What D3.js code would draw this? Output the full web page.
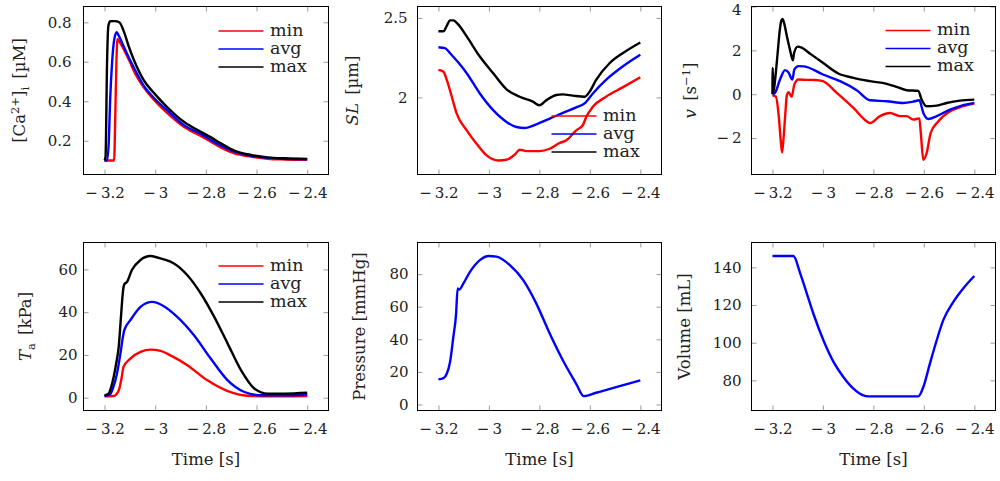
<!DOCTYPE html>
<html lang="en">
<head>
<meta charset="UTF-8">
<title>Model outputs over one beat</title>
<script src="https://d3js.org/d3.v7.min.js"></script>
<style>
    body { margin: 0; background: #fff; }
    svg { display: block; font-family: "DejaVu Serif", serif; }
    .tick text { font-size: 15px; fill: #222; font-family: "DejaVu Serif", serif; }
    .tick line { stroke: #9a9a9a; }
    .axis-label { font-size: 16.5px; fill: #222; }
    .legend-label { font-size: 17.5px; fill: #222; }
</style>
</head>
<body>
<svg id="chart" width="1000" height="481"></svg>
<script>
// ---- data (time in s) ----
const xTicks = [-3.2, -3, -2.8, -2.6, -2.4];
const seriesNames = ["min", "avg", "max"];
const seriesColors = ["#ff0000", "#0000ff", "#000000"];

const caMin = [[-3.2,0.1],[-3.162,0.1],[-3.158,0.3],[-3.153,0.6],[-3.149,0.715],[-3.14,0.7],[-3.125,0.665],[-3.1,0.6],[-3.085,0.556],[-3.045,0.47],[-3.0,0.4],[-2.953,0.341],[-2.887,0.271],[-2.82,0.224],[-2.78,0.195],[-2.74,0.165],[-2.688,0.136],[-2.622,0.12],[-2.556,0.109],[-2.49,0.105],[-2.4,0.103]];
const caAvg = [[-3.2,0.1],[-3.19,0.1],[-3.183,0.2],[-3.178,0.4],[-3.17,0.6],[-3.162,0.71],[-3.152,0.75],[-3.145,0.735],[-3.125,0.68],[-3.1,0.61],[-3.086,0.575],[-3.046,0.48],[-3.0,0.41],[-2.953,0.355],[-2.887,0.279],[-2.82,0.234],[-2.78,0.203],[-2.74,0.175],[-2.688,0.145],[-2.622,0.124],[-2.556,0.113],[-2.49,0.108],[-2.4,0.106]];
const caMax = [[-3.2,0.1],[-3.196,0.12],[-3.19,0.6],[-3.185,0.78],[-3.178,0.805],[-3.16,0.806],[-3.142,0.8],[-3.125,0.758],[-3.105,0.68],[-3.086,0.615],[-3.046,0.508],[-3.0,0.435],[-2.953,0.371],[-2.887,0.296],[-2.82,0.245],[-2.78,0.217],[-2.741,0.187],[-2.688,0.15],[-2.622,0.128],[-2.556,0.116],[-2.49,0.111],[-2.4,0.108]];

const slMin = [[-3.2,2.173],[-3.18,2.162],[-3.167,2.11],[-3.147,2.004],[-3.128,1.899],[-3.088,1.793],[-3.049,1.709],[-3.009,1.635],[-2.963,1.603],[-2.93,1.608],[-2.897,1.641],[-2.878,1.671],[-2.851,1.662],[-2.8,1.662],[-2.759,1.677],[-2.72,1.713],[-2.693,1.73],[-2.654,1.793],[-2.628,1.825],[-2.614,1.878],[-2.588,1.941],[-2.536,2.004],[-2.47,2.063],[-2.4,2.127]];
const slAvg = [[-3.2,2.316],[-3.174,2.31],[-3.154,2.278],[-3.121,2.219],[-3.088,2.152],[-3.036,2.025],[-2.983,1.92],[-2.93,1.846],[-2.891,1.814],[-2.858,1.808],[-2.812,1.831],[-2.759,1.867],[-2.707,1.903],[-2.654,1.937],[-2.621,1.962],[-2.588,2.025],[-2.536,2.11],[-2.47,2.194],[-2.4,2.268]];
const slMax = [[-3.2,2.416],[-3.18,2.416],[-3.167,2.45],[-3.154,2.485],[-3.141,2.485],[-3.121,2.458],[-3.088,2.384],[-3.036,2.257],[-2.983,2.152],[-2.93,2.051],[-2.878,2.004],[-2.826,1.973],[-2.8,1.951],[-2.772,1.983],[-2.733,2.015],[-2.707,2.019],[-2.667,2.011],[-2.621,2.004],[-2.601,2.036],[-2.575,2.11],[-2.522,2.215],[-2.47,2.278],[-2.4,2.346]];

const vMin = [[-3.2,-0.05],[-3.187,-0.1],[-3.175,-1.0],[-3.168,-2.0],[-3.162,-2.66],[-3.156,-2.0],[-3.149,-0.9],[-3.143,-0.05],[-3.136,0.09],[-3.124,-0.12],[-3.113,0.45],[-3.097,0.67],[-3.064,0.656],[-3.031,0.65],[-3.0,0.595],[-2.945,0.06],[-2.879,-0.626],[-2.826,-1.237],[-2.813,-1.313],[-2.774,-1.0],[-2.734,-0.855],[-2.694,-1.0],[-2.668,-1.0],[-2.642,-1.16],[-2.618,-1.1],[-2.612,-1.77],[-2.602,-2.99],[-2.589,-2.69],[-2.573,-1.77],[-2.543,-1.24],[-2.496,-0.78],[-2.45,-0.57],[-2.4,-0.43]];
const vAvg = [[-3.2,0],[-3.19,0.06],[-3.17,0.67],[-3.15,1.1],[-3.137,1.0],[-3.121,0.67],[-3.113,1.13],[-3.097,1.28],[-3.075,1.27],[-3.0,0.9],[-2.932,0.595],[-2.866,0.183],[-2.813,-0.275],[-2.747,-0.32],[-2.681,-0.397],[-2.642,-0.336],[-2.618,-0.275],[-2.602,-0.855],[-2.582,-1.13],[-2.549,-1.0],[-2.496,-0.7],[-2.45,-0.52],[-2.4,-0.397]];
const vMax = [[-3.2,0],[-3.199,1.2],[-3.196,0.1],[-3.19,0.6],[-3.18,1.8],[-3.172,2.8],[-3.165,3.35],[-3.16,3.43],[-3.154,3.25],[-3.143,2.66],[-3.13,2.0],[-3.119,1.55],[-3.114,1.89],[-3.1,2.17],[-3.084,2.12],[-3.051,1.85],[-3.0,1.435],[-2.939,0.947],[-2.879,0.748],[-2.813,0.595],[-2.747,0.473],[-2.708,0.336],[-2.668,0.183],[-2.622,0.153],[-2.609,-0.244],[-2.589,-0.55],[-2.549,-0.52],[-2.51,-0.4],[-2.457,-0.29],[-2.4,-0.244]];

const taMin = [[-3.2,0.6],[-3.164,0.8],[-3.144,3.4],[-3.133,9],[-3.125,14.4],[-3.098,18.3],[-3.058,21.4],[-3.019,22.5],[-2.979,21.9],[-2.94,19.8],[-2.873,15.2],[-2.794,8.1],[-2.714,3.1],[-2.635,0.9],[-2.556,0.6],[-2.4,0.8]];
const taAvg = [[-3.2,0.8],[-3.178,1.6],[-3.165,5],[-3.151,11.25],[-3.138,20],[-3.128,28],[-3.122,31.6],[-3.098,36.25],[-3.058,42.5],[-3.012,44.8],[-2.966,42.8],[-2.913,37.8],[-2.847,29.2],[-2.781,18.3],[-2.714,8.1],[-2.648,2.66],[-2.582,1.1],[-2.49,1.1],[-2.4,1.4]];
const taMax = [[-3.2,1.1],[-3.184,1.9],[-3.175,4.5],[-3.164,9.7],[-3.154,16],[-3.144,23.75],[-3.135,38],[-3.127,50],[-3.122,53],[-3.111,54.2],[-3.092,59.7],[-3.058,64.4],[-3.019,66.25],[-2.992,65.6],[-2.966,64.7],[-2.926,62.8],[-2.873,57.3],[-2.82,48.75],[-2.767,37.8],[-2.714,25.3],[-2.661,12.8],[-2.608,4.2],[-2.556,1.9],[-2.49,1.9],[-2.4,2.3]];

const pressure = [[-3.2,15.4],[-3.18,16.2],[-3.167,18.9],[-3.154,26.1],[-3.141,41.4],[-3.13,55.8],[-3.124,71.2],[-3.118,70.5],[-3.101,74.3],[-3.075,81.4],[-3.036,88.6],[-3.0,91.1],[-2.97,90.7],[-2.917,85.5],[-2.864,76.3],[-2.812,61.9],[-2.759,43.5],[-2.707,27.1],[-2.654,12.7],[-2.624,5.1],[-2.575,7.2],[-2.496,10.6],[-2.4,14.8]];
const volume = [[-3.2,146],[-3.117,146],[-3.09,136.8],[-3.064,126.2],[-3.038,115.5],[-2.998,101.3],[-2.958,89.8],[-2.919,81.8],[-2.879,75.6],[-2.84,72.0],[-2.82,71.5],[-2.622,71.5],[-2.602,76.5],[-2.576,88.9],[-2.549,101.3],[-2.523,112],[-2.483,121.7],[-2.444,128.8],[-2.4,135.4]];

const caTicks = [0.2, 0.4, 0.6, 0.8];
const slTicks = [2, 2.5];
const vTicks = [-2, 0, 2, 4];
const taTicks = [0, 20, 40, 60];
const pTicks = [0, 20, 40, 60, 80];
const volTicks = [80, 100, 120, 140];

// ---- layout ----
const xDomain = [-3.283, -2.316];
const colLeft = [83.5, 417.5, 751.5];
const colRight = [328.5, 661.5, 995.5];
const rowTop = [6.5, 242.5];
const rowBottom = [174.5, 410.5];

const panels = [
    { col: 0, row: 0, yDomain: [0.029, 0.88], yTicks: caTicks, series: [caMin, caAvg, caMax], legendY: 31, labelX: 19, tickGap: 12,
      label: [{t: "[Ca"}, {t: "2+", sup: true}, {t: "]"}, {t: "i", sub: true}, {t: "\u2002[µM]"}] },
    { col: 1, row: 0, yDomain: [1.515, 2.572], yTicks: slTicks, series: [slMin, slAvg, slMax], legendY: 116, labelX: 352, tickGap: 10,
      label: [{t: "SL", it: true}, {t: "\u2002[µm]"}] },
    { col: 2, row: 0, yDomain: [-3.66, 4.0], yTicks: vTicks, series: [vMin, vAvg, vMax], legendY: 30.5, labelX: 690, tickGap: 10,
      label: [{t: "v", it: true}, {t: "\u2002[s"}, {t: "\u22121", sup: true}, {t: "]"}] },
    { col: 0, row: 1, yDomain: [-6, 72.6], yTicks: taTicks, series: [taMin, taAvg, taMax], legendY: 266, labelX: 25, tickGap: 6,
      label: [{t: "T", it: true}, {t: "a", sub: true}, {t: "\u2002[kPa]"}] },
    { col: 1, row: 1, yDomain: [-3.7, 99.4], yTicks: pTicks, series: [pressure], labelX: 359, tickGap: 9,
      label: [{t: "Pressure [mmHg]"}] },
    { col: 2, row: 1, yDomain: [64, 153.2], yTicks: volTicks, series: [volume], labelX: 684, tickGap: 10,
      label: [{t: "Volume [mL]"}] }
];

const svg = d3.select("#chart");
const fmt = d => (d < 0 ? "\u2212\u2009" : "") + Math.abs(d);

function richText(textSel, segs) {
    let shift = 0;
    segs.forEach(s => {
        const target = s.sup ? -6.5 : s.sub ? 3.5 : 0;
        const ts = textSel.append("tspan").attr("dy", target - shift).text(s.t);
        if (s.sup || s.sub) ts.style("font-size", "11.5px");
        if (s.it) ts.style("font-style", "italic");
        shift = target;
    });
}

panels.forEach(p => {
    const left = colLeft[p.col], right = colRight[p.col];
    const top = rowTop[p.row], bottom = rowBottom[p.row];
    const x = d3.scaleLinear().domain(xDomain).range([left, right]);
    const y = d3.scaleLinear().domain(p.yDomain).range([bottom, top]);
    const g = svg.append("g");

    // ticks on all four sides, pointing inward
    g.append("g").attr("transform", `translate(0,${bottom})`)
        .call(d3.axisBottom(x).tickValues(xTicks).tickSize(-5).tickPadding(13).tickFormat(fmt))
        .call(a => a.select(".domain").remove());
    g.append("g").attr("transform", `translate(0,${top})`)
        .call(d3.axisTop(x).tickValues(xTicks).tickSize(-5).tickFormat(""))
        .call(a => a.select(".domain").remove());
    const yAxis = g.append("g").attr("transform", `translate(${left},0)`)
        .call(d3.axisLeft(y).tickValues(p.yTicks).tickSize(-5).tickPadding(p.tickGap).tickFormat(fmt))
        .call(a => a.select(".domain").remove());
    g.append("g").attr("transform", `translate(${right},0)`)
        .call(d3.axisRight(y).tickValues(p.yTicks).tickSize(-5).tickFormat(""))
        .call(a => a.select(".domain").remove());
    g.selectAll(".tick text").attr("font-family", null).attr("font-size", null).attr("fill", null);

    // keep a label that sits right at the top edge inside the page
    yAxis.selectAll(".tick text").each(function(d) {
        const b = this.getBBox();
        const pageTop = y(d) + b.y;
        if (pageTop < 0) d3.select(this).attr("y", -pageTop);
    });

    const line = d3.line().x(d => x(d[0])).y(d => y(d[1])).curve(d3.curveMonotoneX);
    const colors = p.series.length === 1 ? ["#0000ff"] : seriesColors;
    p.series.forEach((s, i) => {
        g.append("path")
            .attr("d", line(s))
            .attr("fill", "none")
            .attr("stroke", colors[i])
            .attr("stroke-width", 2.4)
            .attr("stroke-linejoin", "round");
    });

    // box
    g.append("rect")
        .attr("x", left).attr("y", top)
        .attr("width", right - left).attr("height", bottom - top)
        .attr("fill", "none").attr("stroke", "#000").attr("stroke-width", 1);

    // legend
    if (p.series.length === 3) {
        const lx = right - 110;
        seriesNames.forEach((name, i) => {
            const ly = p.legendY + i * 18;
            g.append("line")
                .attr("x1", lx).attr("x2", lx + 45)
                .attr("y1", ly).attr("y2", ly)
                .attr("stroke", seriesColors[i]).attr("stroke-width", 1.3);
            g.append("text")
                .attr("class", "legend-label")
                .attr("x", lx + 51.5).attr("y", ly + 4.5)
                .text(name);
        });
    }

    // y label
    const yl = g.append("text")
        .attr("class", "axis-label")
        .attr("text-anchor", "middle")
        .attr("transform", `translate(${p.labelX + 6},${(top + bottom) / 2}) rotate(-90)`);
    richText(yl, p.label);

    // x label on bottom row
    if (p.row === 1) {
        g.append("text")
            .attr("class", "axis-label")
            .attr("text-anchor", "middle")
            .attr("x", (left + right) / 2)
            .attr("y", 465)
            .text("Time [s]");
    }
});
</script>
</body>
</html>
